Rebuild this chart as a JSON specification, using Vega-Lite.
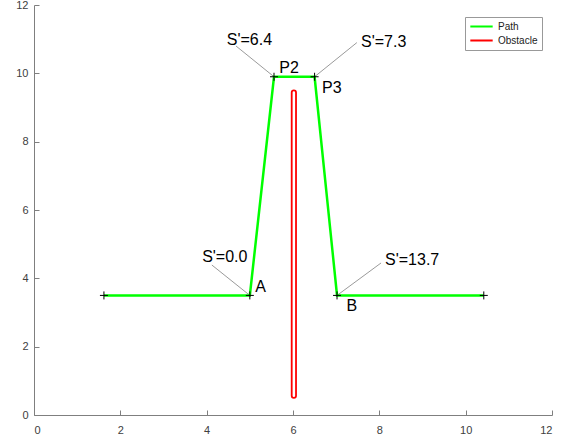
{
  "$schema": "https://vega.github.io/schema/vega-lite/v6.json",
  "width": 518,
  "height": 410,
  "autosize": "none",
  "padding": {"left": 34, "top": 5, "right": 20, "bottom": 25},
  "background": "white",
  "config": {
    "view": {"stroke": null},
    "font": "Liberation Sans",
    "axis": {
      "grid": false,
      "domainColor": "#7f7f7f",
      "tickColor": "#7f7f7f",
      "tickSize": -5,
      "labelColor": "#404040",
      "labelFontSize": 11,
      "labelFont": "Liberation Sans",
      "title": null
    }
  },
  "datasets": {
    "path": [
      {"x": 1.62, "y": 3.5, "order": 1, "series": "Path"},
      {"x": 5.0, "y": 3.5, "order": 2, "series": "Path"},
      {"x": 5.56, "y": 9.9, "order": 3, "series": "Path"},
      {"x": 6.5, "y": 9.9, "order": 4, "series": "Path"},
      {"x": 7.02, "y": 3.5, "order": 5, "series": "Path"},
      {"x": 10.42, "y": 3.5, "order": 6, "series": "Path"}
    ],
    "obstacle": [
      {"x1": 5.97, "x2": 6.07, "y1": 0.5, "y2": 9.5, "series": "Obstacle"}
    ],
    "leaders": [
      {"x": 4.68, "y": 10.8, "x2": 5.56, "y2": 9.9},
      {"x": 7.48, "y": 10.9, "x2": 6.5, "y2": 9.9},
      {"x": 4.12, "y": 4.39, "x2": 5.0, "y2": 3.5},
      {"x": 8.04, "y": 4.45, "x2": 7.02, "y2": 3.5}
    ],
    "labels": [
      {"x": 4.99, "y": 10.97, "text": "S'=6.4"},
      {"x": 8.1, "y": 10.93, "text": "S'=7.3"},
      {"x": 4.42, "y": 4.62, "text": "S'=0.0"},
      {"x": 8.76, "y": 4.54, "text": "S'=13.7"},
      {"x": 5.25, "y": 3.76, "text": "A"},
      {"x": 7.36, "y": 3.18, "text": "B"},
      {"x": 5.91, "y": 10.17, "text": "P2"},
      {"x": 6.9, "y": 9.57, "text": "P3"}
    ]
  },
  "layer": [
    {
      "data": {"name": "leaders"},
      "mark": {"type": "rule", "color": "#555555", "strokeWidth": 0.6},
      "encoding": {
        "x": {"field": "x", "type": "quantitative", "scale": {"domain": [0, 12], "nice": false}, "axis": {"values": [0, 2, 4, 6, 8, 10, 12], "labelPadding": 14}},
        "y": {"field": "y", "type": "quantitative", "scale": {"domain": [0, 12], "nice": false}, "axis": {"values": [0, 2, 4, 6, 8, 10, 12], "labelPadding": 11}},
        "x2": {"field": "x2"},
        "y2": {"field": "y2"}
      }
    },
    {
      "data": {"name": "path"},
      "mark": {"type": "line", "strokeWidth": 2.5},
      "encoding": {
        "x": {"field": "x", "type": "quantitative"},
        "y": {"field": "y", "type": "quantitative"},
        "order": {"field": "order"},
        "color": {
          "field": "series", "type": "nominal",
          "scale": {"domain": ["Path", "Obstacle"], "range": ["#00ff00", "#ff0000"]},
          "legend": {
            "title": null, "orient": "none", "legendX": 431, "legendY": 12,
            "symbolType": "stroke", "symbolSize": 500, "symbolStrokeWidth": 2,
            "clipHeight": 11,
            "labelFontSize": 10, "labelColor": "#222222", "labelFont": "Liberation Sans",
            "strokeColor": "#999999", "fillColor": "white", "padding": 4,
            "rowPadding": 3, "labelOffset": 4
          }
        }
      }
    },
    {
      "data": {"name": "obstacle"},
      "mark": {"type": "rect", "filled": false, "strokeWidth": 1.8, "cornerRadius": 2.5},
      "encoding": {
        "x": {"field": "x1", "type": "quantitative"},
        "x2": {"field": "x2"},
        "y": {"field": "y1", "type": "quantitative"},
        "y2": {"field": "y2"},
        "color": {"field": "series", "type": "nominal"}
      }
    },
    {
      "data": {"name": "path"},
      "mark": {"type": "point", "shape": "M-1,0H1M0,-1V1", "size": 64, "color": "#000000", "strokeWidth": 1, "filled": false, "opacity": 1},
      "encoding": {
        "x": {"field": "x", "type": "quantitative"},
        "y": {"field": "y", "type": "quantitative"}
      }
    },
    {
      "data": {"name": "labels"},
      "mark": {"type": "text", "fontSize": 16, "font": "Liberation Sans", "color": "#000000", "align": "center", "baseline": "middle"},
      "encoding": {
        "x": {"field": "x", "type": "quantitative"},
        "y": {"field": "y", "type": "quantitative"},
        "text": {"field": "text"}
      }
    }
  ]
}
